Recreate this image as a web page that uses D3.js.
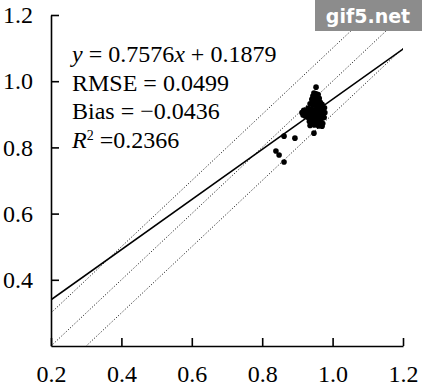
<!DOCTYPE html>
<html>
<head>
<meta charset="utf-8">
<script src="https://cdn.jsdelivr.net/npm/d3@7"></script>
<style>
  body { margin: 0; background: #fff; }
  svg { display: block; font-family: "Liberation Serif", "Times New Roman", serif; }
</style>
</head>
<body>
<svg id="chart"></svg>
<script>
const xTicks = [0.2, 0.4, 0.6, 0.8, 1.0, 1.2];
const yTicks = [0.4, 0.6, 0.8, 1.0, 1.2];

const slope = 0.7576;
const intercept = 0.1879;
const offsets = [-0.1, 0, 0.1]; // 1:1 line and +/-0.1 envelope

const statLines = ['RMSE = 0.0499', 'Bias = \u22120.0436'];
const r2Value = '0.2366';

// observed (x) vs estimated (y)
const points = [
  [0.953, 0.982],
  [0.947, 0.964], [0.953, 0.962], [0.959, 0.960], [0.944, 0.955], [0.950, 0.952],
  [0.956, 0.950], [0.962, 0.948], [0.941, 0.945], [0.947, 0.942], [0.953, 0.940],
  [0.959, 0.938], [0.965, 0.936], [0.936, 0.932], [0.942, 0.930], [0.948, 0.928],
  [0.954, 0.926], [0.960, 0.925], [0.966, 0.922], [0.970, 0.930], [0.930, 0.918],
  [0.936, 0.916], [0.942, 0.914], [0.948, 0.912], [0.954, 0.915], [0.960, 0.912],
  [0.966, 0.910], [0.972, 0.912], [0.926, 0.905], [0.932, 0.902], [0.938, 0.900],
  [0.944, 0.903], [0.950, 0.900], [0.956, 0.898], [0.962, 0.900], [0.968, 0.898],
  [0.974, 0.902], [0.922, 0.895], [0.916, 0.898], [0.930, 0.890], [0.938, 0.888],
  [0.946, 0.890], [0.952, 0.886], [0.958, 0.888], [0.964, 0.885], [0.970, 0.888],
  [0.976, 0.890], [0.934, 0.878], [0.942, 0.876], [0.950, 0.878], [0.957, 0.874],
  [0.965, 0.876], [0.972, 0.872], [0.936, 0.866], [0.948, 0.868], [0.960, 0.865],
  [0.970, 0.864], [0.913, 0.905], [0.918, 0.912], [0.978, 0.905], [0.977, 0.920],
  [0.947, 0.843], [0.862, 0.834], [0.893, 0.828], [0.839, 0.789], [0.848, 0.777],
  [0.862, 0.756]
];

const width = 422, height = 389;
const margin = { left: 51, right: 403, top: 15, bottom: 346 };

const svg = d3.select('#chart')
  .attr('width', width)
  .attr('height', height)
  .attr('viewBox', `0 0 ${width} ${height}`);

const x = d3.scaleLinear().domain([0.2, 1.2]).range([margin.left, margin.right]);
const y = d3.scaleLinear().domain([0.2, 1.2]).range([margin.bottom, margin.top]);
const fmt = d3.format('.1f');

svg.append('defs')
  .append('clipPath')
  .attr('id', 'plot')
  .append('rect')
  .attr('x', margin.left)
  .attr('y', margin.top)
  .attr('width', margin.right - margin.left)
  .attr('height', margin.bottom - margin.top);

const lineFn = d3.line().x(d => x(d[0])).y(d => y(d[1]));

const inner = svg.append('g').attr('clip-path', 'url(#plot)');

// dotted reference lines
inner.selectAll('path.ref')
  .data(offsets)
  .join('path')
  .attr('class', 'ref')
  .attr('d', o => lineFn([[0, o], [1.2, 1.2 + o]]))
  .attr('fill', 'none')
  .attr('stroke', '#000')
  .attr('stroke-width', 1)
  .attr('stroke-dasharray', '1,2');

// regression line
inner.append('path')
  .attr('d', lineFn([0.2, 1.2].map(v => [v, slope * v + intercept])))
  .attr('fill', 'none')
  .attr('stroke', '#000')
  .attr('stroke-width', 1.6);

// points
svg.append('g')
  .selectAll('circle')
  .data(points)
  .join('circle')
  .attr('cx', d => x(d[0]))
  .attr('cy', d => y(d[1]))
  .attr('r', 2.8)
  .attr('fill', '#000');

// axes
const xAxis = d3.axisBottom(x)
  .tickValues(xTicks)
  .tickFormat(fmt)
  .tickSizeInner(-8)
  .tickSizeOuter(0)
  .tickPadding(19);

const yAxis = d3.axisLeft(y)
  .tickValues(yTicks)
  .tickFormat(fmt)
  .tickSizeInner(-8)
  .tickSizeOuter(0)
  .tickPadding(18);

function styleAxis(g) {
  g.attr('font-family', null).attr('font-size', 24);
  g.selectAll('path, line').attr('stroke', '#000').attr('stroke-width', 1.6);
  g.selectAll('text').attr('fill', '#000');
}

svg.append('g')
  .attr('transform', `translate(0,${margin.bottom})`)
  .call(xAxis)
  .call(styleAxis);

svg.append('g')
  .attr('transform', `translate(${margin.left},0)`)
  .call(yAxis)
  .call(styleAxis);

// annotation
const ann = svg.append('g').attr('font-size', 24).attr('fill', '#000');
const annX = 72, annY = 62, lineH = 28.7;

const eq = ann.append('text').attr('x', annX).attr('y', annY);
eq.append('tspan').attr('font-style', 'italic').text('y');
eq.append('tspan').text(` = ${slope}`);
eq.append('tspan').attr('font-style', 'italic').text('x');
eq.append('tspan').text(` + ${intercept}`);

statLines.forEach((t, i) => {
  ann.append('text')
    .attr('x', annX)
    .attr('y', annY + lineH * (i + 1))
    .text(t);
});

const r2 = ann.append('text').attr('x', annX).attr('y', annY + lineH * 3);
r2.append('tspan').attr('font-style', 'italic').text('R');
r2.append('tspan').attr('font-size', 14).attr('dy', -8).text('2');
r2.append('tspan').attr('dy', 8).text(` =${r2Value}`);

// watermark
const wm = svg.append('g');
wm.append('rect')
  .attr('x', 315).attr('y', 0)
  .attr('width', width - 315).attr('height', 31)
  .attr('fill', '#8c8c8c');
wm.append('text')
  .attr('x', 368).attr('y', 23)
  .attr('text-anchor', 'middle')
  .attr('font-family', '"DejaVu Sans", sans-serif')
  .attr('font-weight', 'bold')
  .attr('font-size', 19)
  .attr('fill', '#fff')
  .text('gif5.net');
</script>
</body>
</html>
